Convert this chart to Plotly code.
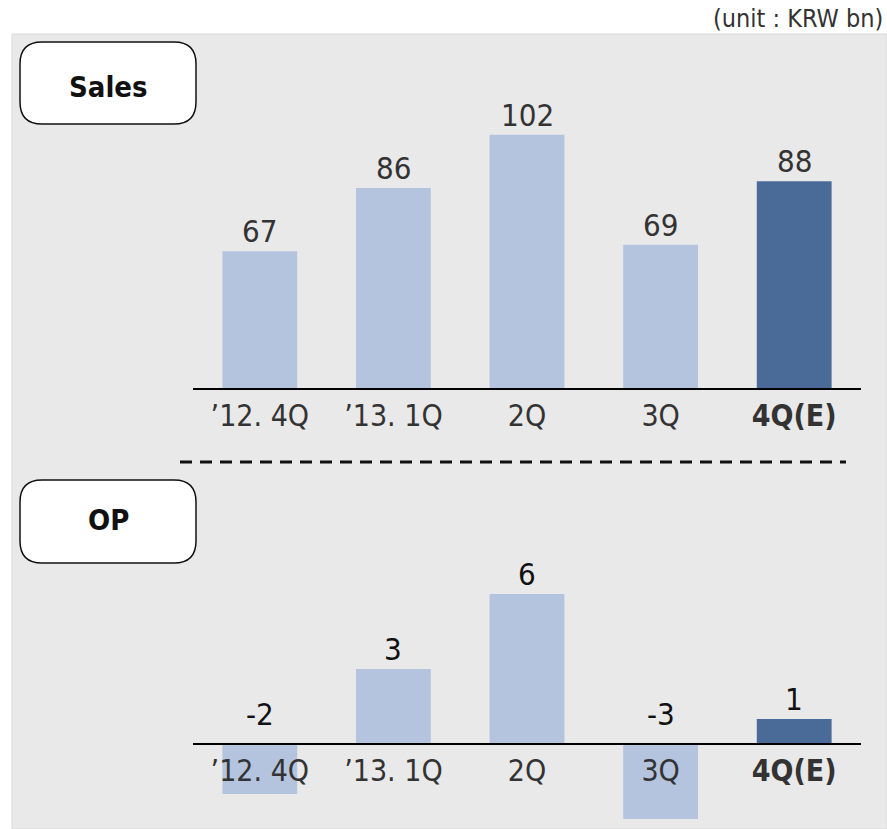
import plotly.graph_objects as go

# Quarterly figures (KRW bn)
quarters = ["’12. 4Q", "’13. 1Q", "2Q", "3Q", "4Q(E)"]
tick_labels = ["’12. 4Q", "’13. 1Q", "2Q", "3Q", "<b>4Q(E)</b>"]
sales = [67, 86, 102, 69, 88]
op = [-2, 3, 6, -3, 1]

W, H = 887, 829
FONT = "DejaVu Sans Condensed, DejaVu Sans, sans-serif"
LIGHT = "#b5c4de"
DARK = "#4a6a98"
bar_colors = [LIGHT, LIGHT, LIGHT, LIGHT, DARK]


def fx(px):
    return px / W


def fy(py):
    return 1 - py / H


def rounded_box(x0, y0, x1, y1, r):
    pts = [
        ("M", [(x0 + r, y0)]),
        ("L", [(x1 - r, y0)]),
        ("Q", [(x1, y0), (x1, y0 + r)]),
        ("L", [(x1, y1 - r)]),
        ("Q", [(x1, y1), (x1 - r, y1)]),
        ("L", [(x0 + r, y1)]),
        ("Q", [(x0, y1), (x0, y1 - r)]),
        ("L", [(x0, y0 + r)]),
        ("Q", [(x0, y0), (x0 + r, y0)]),
    ]
    s = ""
    for cmd, ps in pts:
        s += cmd + " ".join(f"{fx(a):.5f},{fy(b):.5f}" for a, b in ps) + " "
    return s + "Z"


fig = go.Figure()

fig.add_trace(go.Bar(
    x=quarters, y=sales, marker=dict(color=bar_colors, line=dict(width=0)),
    width=0.56, xaxis="x", yaxis="y", showlegend=False, hoverinfo="skip",
))
fig.add_trace(go.Bar(
    x=quarters, y=op, marker=dict(color=bar_colors, line=dict(width=0)),
    width=0.56, xaxis="x2", yaxis="y2", showlegend=False, hoverinfo="skip",
))

x_domain = [fx(193), fx(861)]
axis_common = dict(
    type="category", categoryorder="array", categoryarray=quarters,
    tickvals=quarters, ticktext=tick_labels, showgrid=False, zeroline=False,
    showline=True, linecolor="#000000", linewidth=2, ticks="",
    tickfont=dict(family=FONT, size=30, color="#333333"),
    domain=x_domain, fixedrange=True,
)

fig.update_layout(
    width=W, height=H,
    margin=dict(l=0, r=0, t=0, b=0),
    paper_bgcolor="#ffffff",
    plot_bgcolor="rgba(0,0,0,0)",
    bargap=0.44,
    xaxis=dict(anchor="y", **axis_common),
    yaxis=dict(domain=[fy(388), fy(100)], range=[26, 112.4], visible=False,
               fixedrange=True),
    xaxis2=dict(anchor="free", position=fy(744), **axis_common),
    yaxis2=dict(domain=[fy(825), fy(500)], range=[-3.24, 9.76], visible=False,
                fixedrange=True),
)

shapes = [
    # grey panel
    dict(type="rect", xref="paper", yref="paper", x0=fx(12), x1=1.0,
         y0=0, y1=fy(34), fillcolor="#e9e9e9",
         line=dict(color="#dadada", width=1), layer="below"),
    # separator between the two charts
    dict(type="line", xref="paper", yref="paper", x0=fx(180), x1=fx(846),
         y0=fy(462), y1=fy(462), line=dict(color="#111111", width=3, dash="12px,8px")),
    # title boxes
    dict(type="path", xref="paper", yref="paper", path=rounded_box(20, 42, 196, 124, 22),
         fillcolor="#ffffff", line=dict(color="#111111", width=1.5)),
    dict(type="path", xref="paper", yref="paper", path=rounded_box(20, 480, 196, 563, 22),
         fillcolor="#ffffff", line=dict(color="#111111", width=1.5)),
]
fig.update_layout(shapes=shapes)

annotations = [
    dict(text="(unit : KRW bn)", xref="paper", yref="paper", x=fx(885), y=fy(18),
         xanchor="right", yanchor="middle", showarrow=False,
         font=dict(family=FONT, size=25, color="#333333")),
    dict(text="<b>Sales</b>", xref="paper", yref="paper", x=fx(108), y=fy(87),
         xanchor="center", yanchor="middle", showarrow=False,
         font=dict(family=FONT, size=29, color="#111111")),
    dict(text="<b>OP</b>", xref="paper", yref="paper", x=fx(108), y=fy(520),
         xanchor="center", yanchor="middle", showarrow=False,
         font=dict(family=FONT, size=29, color="#111111")),
]
for q, v in zip(quarters, sales):
    annotations.append(dict(
        text=str(v), x=q, y=v, xref="x", yref="y", xanchor="center",
        yanchor="bottom", yshift=0, showarrow=False,
        font=dict(family=FONT, size=31, color="#333333")))
for q, v in zip(quarters, op):
    annotations.append(dict(
        text=str(v), x=q, y=max(v, 0), xref="x2", yref="y2", xanchor="center",
        yanchor="bottom", yshift=0 if v >= 0 else 10, showarrow=False,
        font=dict(family=FONT, size=31, color="#111111")))
fig.update_layout(annotations=annotations)

fig.write_html("out.html")
